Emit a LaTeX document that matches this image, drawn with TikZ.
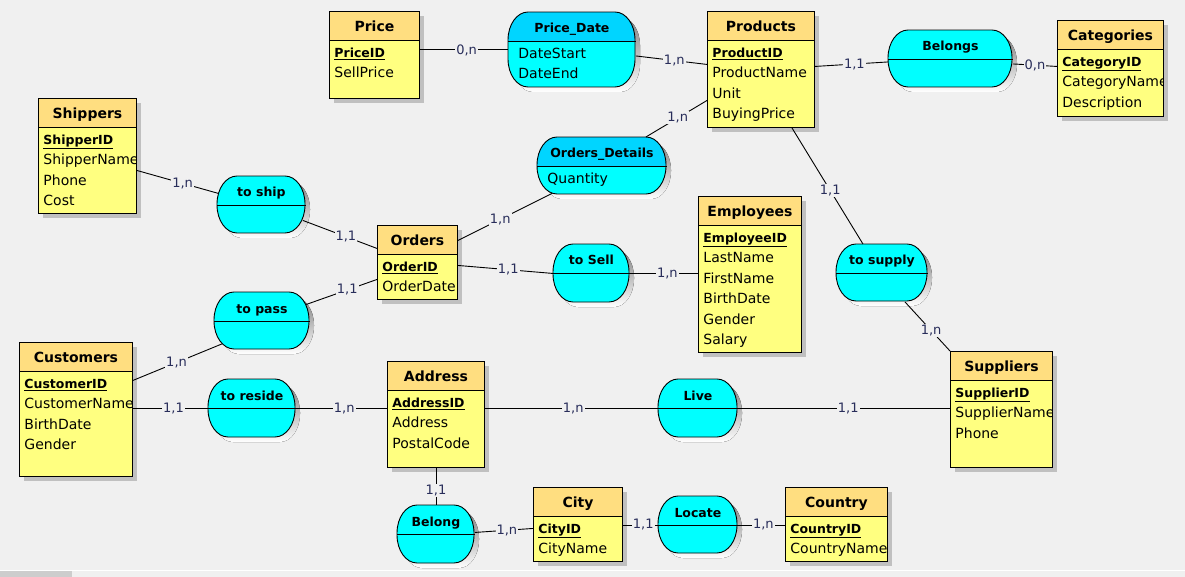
\documentclass[tikz,border=0pt]{standalone}
\usepackage{fontspec}
\setmainfont{DejaVu Sans}
\usetikzlibrary{shadows}

\definecolor{bg}{RGB}{240,240,240}
\definecolor{enthead}{RGB}{255,222,128}
\definecolor{entbody}{RGB}{255,255,128}
\definecolor{relbody}{RGB}{0,255,255}
\definecolor{relhead}{RGB}{0,213,255}
\definecolor{shade}{RGB}{192,192,192}
\definecolor{cardtext}{RGB}{40,45,90}
\definecolor{thumb}{RGB}{205,205,205}

\tikzset{
  boxshadow/.style={drop shadow={shadow xshift=5pt, shadow yshift=-5pt, fill=shade, opacity=1}},
  header/.style={path picture={
      \fill[#1] (path picture bounding box.north west) rectangle ([yshift=-29pt]path picture bounding box.north east);
      \draw ([yshift=-29pt]path picture bounding box.north west) -- ([yshift=-29pt]path picture bounding box.north east);}},
  entity/.style={draw, fill=entbody, anchor=north west, inner sep=0pt, boxshadow, header=enthead},
  relbox/.style={anchor=north west, inner sep=0pt},
  etitle/.style={anchor=base, inner sep=0pt, font=\fontsize{14}{16}\selectfont\bfseries},
  rtitle/.style={anchor=base, inner sep=0pt, font=\fontsize{12.5}{15}\selectfont\bfseries},
  attr/.style={anchor=north west, align=left, inner sep=0pt, font=\fontsize{14}{20.4}\selectfont},
  card/.style={fill=bg, inner sep=1pt, text=cardtext, font=\fontsize{13}{15}\selectfont}
}

\newcommand{\pkey}[1]{{\fontsize{12.5}{20.4}\selectfont\bfseries\underline{#1}}}

% outline of a relation: left, top, width, height
\newcommand{\relpath}[4]{({#1+20},#2) -- ({#1+#3-20},#2)
  .. controls ({#1+#3-9},#2) and ({#1+#3},{#2+12.5}) .. ({#1+#3},{#2+28})
  -- ({#1+#3},{#2+#4-28})
  .. controls ({#1+#3},{#2+#4-12.5}) and ({#1+#3-9},{#2+#4}) .. ({#1+#3-20},{#2+#4})
  -- ({#1+20},{#2+#4})
  .. controls ({#1+9},{#2+#4}) and (#1,{#2+#4-12.5}) .. (#1,{#2+#4-28})
  -- (#1,{#2+28})
  .. controls (#1,{#2+12.5}) and ({#1+9},#2) .. ({#1+20},#2) -- cycle}

\newcommand{\entity}[7]{%
  \node[entity, minimum width=#4pt, minimum height=#5pt] (#1) at (#2,#3) {};
  \node[etitle] (#1-title) at ([yshift=-20.5pt]#1.north) {#6};
  \begin{scope}
    \clip (#1.north west) rectangle ([xshift=-0.5pt]#1.south east);
    \node[attr] (#1-attr) at ([shift={(5pt,-31.7pt)}]#1.north west) {\strut#7};
  \end{scope}
}

\newcommand{\assoc}[8][relbody]{%
  \node[relbox, minimum width=#5pt, minimum height=#6pt] (#2) at (#3,#4) {};
  \fill[shade, shift={(5,5)}] \relpath{#3}{#4}{#5}{#6};
  \begin{scope}
    \clip \relpath{#3}{#4}{#5}{#6};
    \fill[relbody] (#2.north west) rectangle (#2.south east);
    \fill[#1] (#2.north west) rectangle ([yshift=-29pt]#2.north east);
  \end{scope}
  \draw ([yshift=-29pt]#2.north west) -- ([yshift=-29pt]#2.north east);
  \draw \relpath{#3}{#4}{#5}{#6};
  \node[rtitle] (#2-title) at ([yshift=-21pt]#2.north) {#7};
  \node[attr] (#2-attr) at ([shift={(10pt,-31.7pt)}]#2.north west) {\strut#8};
}

\begin{document}
\begin{tikzpicture}[x=1pt, y=-1pt, line width=0.9pt]
  \fill[bg] (0,0) rectangle (1185,577);
  \useasboundingbox (0,0) rectangle (1185,577);

  \entity{price}{329}{11}{90}{87}{Price}{\pkey{PriceID}\\SellPrice}
  \assoc[relhead]{pricedate}{508}{12}{127}{75}{Price\_Date}{DateStart\\DateEnd}
  \entity{products}{707}{11}{107}{116}{Products}{\pkey{ProductID}\\ProductName\\Unit\\BuyingPrice}
  \assoc{belongs}{888}{30}{124}{57}{Belongs}{}
  \entity{categories}{1057}{20}{106}{96}{Categories}{\pkey{CategoryID}\\CategoryName\\Description}
  \entity{shippers}{38}{98}{98}{115}{Shippers}{\pkey{ShipperID}\\ShipperName\\Phone\\Cost}
  \assoc{toship}{217}{176}{88}{57}{to ship}{}
  \entity{orders}{377}{225}{80}{74}{Orders}{\pkey{OrderID}\\OrderDate}
  \assoc[relhead]{orddetails}{537}{137}{129}{57}{Orders\_Details}{Quantity}
  \assoc{tosell}{553}{244}{76}{58}{to Sell}{}
  \entity{employees}{698}{196}{103}{156}{Employees}{\pkey{EmployeeID}\\LastName\\FirstName\\BirthDate\\Gender\\Salary}
  \assoc{tosupply}{836}{244}{91}{57}{to supply}{}
  \entity{suppliers}{950}{351}{102}{116}{Suppliers}{\pkey{SupplierID}\\SupplierName\\Phone}
  \assoc{topass}{214}{292}{95}{57}{to pass}{}
  \entity{customers}{19}{342}{113}{134}{Customers}{\pkey{CustomerID}\\CustomerName\\BirthDate\\Gender}
  \assoc{toreside}{208}{379}{87}{58}{to reside}{}
  \entity{address}{387}{361}{97}{106}{Address}{\pkey{AddressID}\\Address\\PostalCode}
  \assoc{live}{658}{379}{79}{58}{Live}{}
  \assoc{belong}{397}{505}{77}{58}{Belong}{}
  \entity{city}{533}{487}{89}{74}{City}{\pkey{CityID}\\CityName}
  \assoc{locate}{658}{496}{79}{57}{Locate}{}
  \entity{country}{785}{487}{102}{74}{Country}{\pkey{CountryID}\\CountryName}

  \draw (price.east |- pricedate.west) -- node[card,pos=.53] (c1) {0,n} (pricedate.west);
  \draw ([yshift=-6pt]pricedate.east) -- node[card,pos=.54] (c2) {1,n} ([yshift=5pt]products.west);
  \draw ([yshift=3pt]products.east) -- node[card,pos=.54] (c3) {1,1} ([yshift=-3pt]belongs.west);
  \draw ([yshift=-5pt]belongs.east) -- node[card,pos=.5] (c4) {0,n} ([yshift=2pt]categories.west);
  \draw ([yshift=-31pt]products.west) -- node[card,pos=.48] (c5) {1,n} ([xshift=-21pt]orddetails.north east);
  \draw ([xshift=31pt]products.south) -- node[card,pos=.54] (c6) {1,1} ([xshift=-19pt]tosupply.north);
  \draw ([xshift=23pt]tosupply.south) -- node[card,pos=.58] (c7) {1,n} (suppliers.north west);
  \draw ([yshift=-14.5pt]shippers.east) -- node[card,pos=.56] (c8) {1,n} ([shift={(1.5pt,11.5pt)}]toship.west);
  \draw ([shift={(-3pt,-15.5pt)}]toship.east) -- node[card,pos=.58] (c9) {1,1} ([yshift=14pt]orders.west);
  \draw ([yshift=22pt]orders.east) -- node[card,pos=.45] (c10) {1,n} ([shift={(15pt,1.5pt)}]orddetails.south west);
  \draw ([yshift=-3pt]orders.east) -- node[card,pos=.53] (c11) {1,1} (tosell.west);
  \draw (tosell.east) -- node[card,pos=.55] (c12) {1,n} (tosell.east -| employees.west);
  \draw ([shift={(-3.6pt,16.5pt)}]topass.east) -- node[card,pos=.58] (c13) {1,1} ([yshift=-17pt]orders.west);
  \draw ([yshift=29pt]customers.east) -- node[card,pos=.49] (c14) {1,n} ([shift={(8pt,6pt)}]topass.south west);
  \draw (customers.east |- toreside.west) -- node[card,pos=.54] (c15) {1,1} (toreside.west);
  \draw (toreside.east) -- node[card,pos=.53] (c16) {1,n} (toreside.east -| address.west);
  \draw (address.east |- live.west) -- node[card,pos=.51] (c17) {1,n} (live.west);
  \draw (live.east) -- node[card,pos=.52] (c18) {1,1} (live.east -| suppliers.west);
  \draw (address.south) -- node[card,pos=.6] (c19) {1,1} (belong.north);
  \draw ([yshift=2pt]belong.east) -- node[card,pos=.55] (c20) {1,n} ([yshift=-4pt]city.west);
  \draw (city.east |- locate.west) -- node[card,pos=.58] (c21) {1,1} (locate.west);
  \draw (locate.east) -- node[card,pos=.54] (c22) {1,n} (locate.east -| country.west);

  \fill[white] (0,570) rectangle (1185,571);
  \fill[thumb] (0,571) rectangle (72,577);
\end{tikzpicture}
\end{document}
